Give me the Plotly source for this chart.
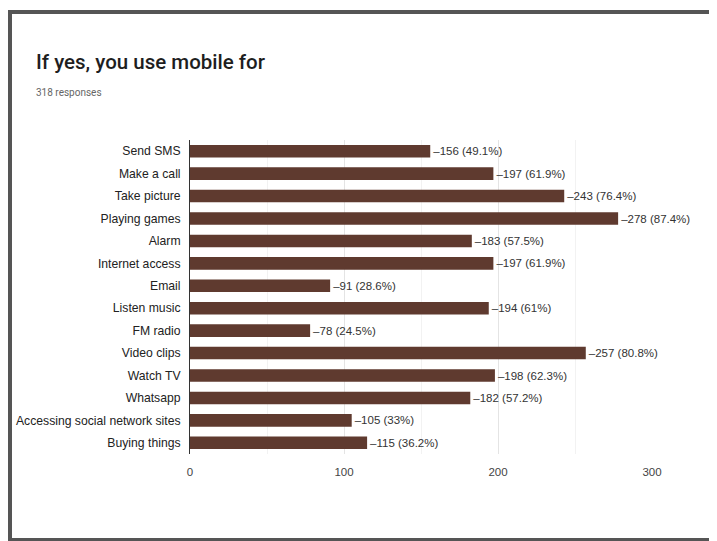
import plotly.graph_objects as go

categories = ["Send SMS", "Make a call", "Take picture", "Playing games", "Alarm",
              "Internet access", "Email", "Listen music", "FM radio", "Video clips",
              "Watch TV", "Whatsapp", "Accessing social network sites", "Buying things"]
counts = [156, 197, 243, 278, 183, 197, 91, 194, 78, 257, 198, 182, 105, 115]
percents = ["49.1%", "61.9%", "76.4%", "87.4%", "57.5%", "61.9%", "28.6%", "61%",
            "24.5%", "80.8%", "62.3%", "57.2%", "33%", "36.2%"]
x_ticks = [0, 100, 200, 300]

labels = [f"\u2013{c} ({p})" for c, p in zip(counts, percents)]

fig = go.Figure(go.Bar(
    y=categories, x=counts, orientation="h",
    marker=dict(color="#5f3a2f", line=dict(width=0)),
    text=labels, textposition="outside", cliponaxis=False,
    textfont=dict(family="Liberation Sans, Arial", size=11.5, color="#333333"),
    width=0.56,
))

# page body has an 8px margin, so work in window pixels minus 8
OFF = 8
W, H = 717 - OFF, 541 - OFF
l, r, t, b = 190 - OFF, 717 - 652, 140 - OFF, 541 - 454
pw, ph = W - l - r, H - t - b

def px(x):
    return (x - OFF - l) / pw

def py(y):
    return (H - b - (y - OFF)) / ph

fig.add_shape(type="rect", xref="paper", yref="paper",
              x0=px(10), x1=px(760), y0=py(540), y1=py(12),
              line=dict(color="#555555", width=4), layer="above")

fig.update_layout(
    template="none",
    width=W, height=H,
    margin=dict(l=l, r=r, t=t, b=b),
    paper_bgcolor="white", plot_bgcolor="white",
    showlegend=False,
    font=dict(family="Liberation Sans, Arial", color="#222222"),
    annotations=[
        dict(text="If yes, you use mobile for", xref="paper", yref="paper",
             x=px(34), y=py(62), xanchor="left", yanchor="middle", showarrow=False,
             font=dict(family="Roboto, Liberation Sans", size=20.5, weight=500, color="#1e1e1e")),
        dict(text="318 responses", xref="paper", yref="paper",
             x=px(34), y=py(93), xanchor="left", yanchor="middle", showarrow=False,
             font=dict(family="Roboto, Liberation Sans", size=10, color="#666666")),
    ],
)
fig.update_xaxes(range=[0, 300], tickvals=x_ticks, ticktext=[str(v) for v in x_ticks],
                 showgrid=True, gridcolor="#e4e4e4", gridwidth=1,
                 minor=dict(dtick=50, showgrid=True, gridcolor="#f2f2f2"),
                 zeroline=False, showline=False, ticks="",
                 tickfont=dict(size=11.5, color="#444444"), ticklabelstandoff=9)
fig.update_yaxes(autorange="reversed", showline=True, linecolor="#333333", linewidth=1,
                 showgrid=False, ticks="", tickfont=dict(size=12.2, color="#222222"),
                 ticklabelstandoff=6)

fig.write_html("out.html")
